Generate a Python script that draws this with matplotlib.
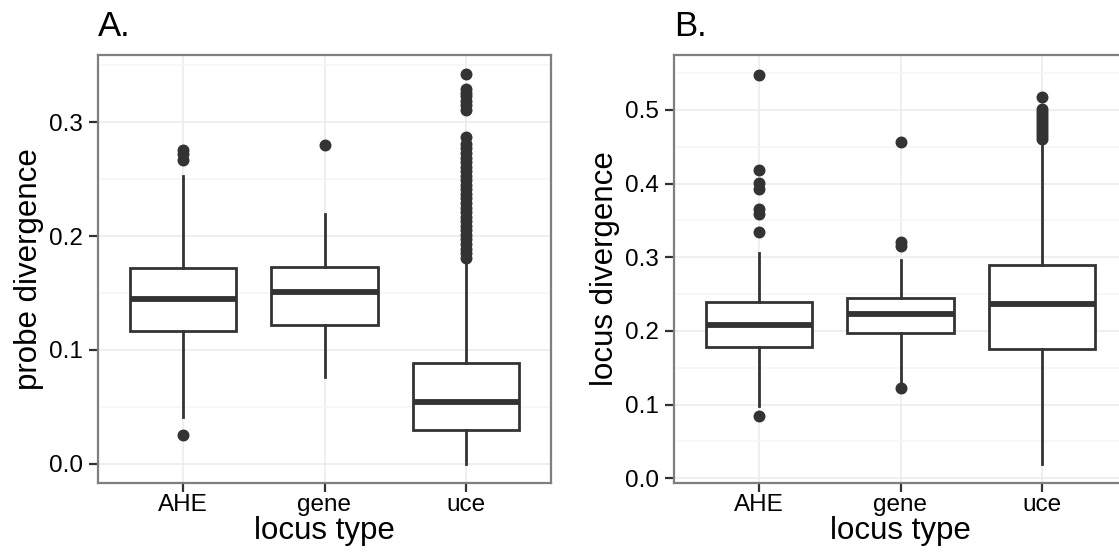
import matplotlib.pyplot as plt
from matplotlib.ticker import MultipleLocator

# locus types (x categories)
types = ["AHE", "gene", "uce"]

# panel A: probe divergence box stats (q1, median, q3, whisker low, whisker high)
probe_q1 = [0.1165, 0.1215, 0.0293]
probe_med = [0.1442, 0.1511, 0.0538]
probe_q3 = [0.1719, 0.1725, 0.0884]
probe_lo = [0.0412, 0.0765, 0.0]
probe_hi = [0.2528, 0.2197, 0.178]
probe_out_ahe = [0.0252, 0.267, 0.272, 0.276]
probe_out_gene = [0.2801]
probe_out_uce = [0.181, 0.185, 0.189, 0.193, 0.197, 0.201, 0.205, 0.209, 0.213,
                 0.217, 0.221, 0.225, 0.229, 0.233, 0.237, 0.241, 0.245, 0.249,
                 0.253, 0.257, 0.261, 0.265, 0.269, 0.273, 0.277, 0.281, 0.287,
                 0.311, 0.315, 0.319, 0.323, 0.326, 0.329, 0.342]

# panel B: locus divergence box stats
locus_q1 = [0.178, 0.1965, 0.1759]
locus_med = [0.208, 0.2225, 0.2359]
locus_q3 = [0.2388, 0.2445, 0.289]
locus_lo = [0.0987, 0.129, 0.0195]
locus_hi = [0.3062, 0.296, 0.458]
locus_out_ahe = [0.084, 0.334, 0.358, 0.366, 0.392, 0.401, 0.418, 0.547]
locus_out_gene = [0.122, 0.315, 0.320, 0.457]
locus_out_uce = [0.461, 0.465, 0.469, 0.473, 0.477, 0.481, 0.485, 0.489,
                 0.493, 0.497, 0.501, 0.518]

dark = "#333333"
plt.rcParams["font.family"] = ["Liberation Sans", "DejaVu Sans"]


def make_stats(q1, med, q3, lo, hi, outs):
    stats = []
    for i in range(len(types)):
        stats.append(dict(q1=q1[i], med=med[i], q3=q3[i], whislo=lo[i],
                          whishi=hi[i], fliers=outs[i], label=types[i]))
    return stats


def draw_panel(ax, stats, ylabel, title, ylim, major):
    ax.bxp(stats, positions=[1, 2, 3], widths=0.75, showcaps=False,
           patch_artist=True,
           boxprops=dict(facecolor="white", edgecolor=dark, linewidth=2.0),
           medianprops=dict(color=dark, linewidth=4.2, solid_capstyle="butt"),
           whiskerprops=dict(color=dark, linewidth=2.0),
           flierprops=dict(marker="o", markersize=7.6, markerfacecolor=dark,
                           markeredgecolor=dark, linestyle="none"),
           zorder=3)
    ax.set_xlim(0.4, 3.6)
    ax.set_ylim(*ylim)
    ax.yaxis.set_major_locator(MultipleLocator(major))
    ax.yaxis.set_minor_locator(MultipleLocator(major / 2))
    ax.set_xticks([1, 2, 3])
    ax.set_xticklabels(types)
    ax.grid(which="major", color="#ebebeb", linewidth=1.1, zorder=0)
    ax.grid(which="minor", axis="y", color="#f5f5f5", linewidth=1.1, zorder=0)
    ax.set_axisbelow(True)
    for s in ax.spines.values():
        s.set_color("#7f7f7f")
        s.set_linewidth(1.6)
    ax.tick_params(which="major", length=6.2, width=1.6, color=dark,
                   labelsize=17.5, labelcolor="black")
    ax.tick_params(axis="y", pad=4.5)
    ax.tick_params(axis="x", pad=1.5)
    ax.tick_params(which="minor", length=0)
    ax.set_xlabel("locus type", fontsize=22.5, labelpad=0)
    ax.set_ylabel(ylabel, fontsize=22.5, labelpad=4)
    ax.text(0, 1.044, title, transform=ax.transAxes, fontsize=25,
            ha="left", va="baseline")


fig = plt.figure(figsize=(11.19, 5.54), dpi=100)
axA = fig.add_axes([98 / 1119, 71 / 554, 453 / 1119, 428 / 554])
axB = fig.add_axes([674 / 1119, 71 / 554, 453 / 1119, 428 / 554])

draw_panel(axA, make_stats(probe_q1, probe_med, probe_q3, probe_lo, probe_hi,
                           [probe_out_ahe, probe_out_gene, probe_out_uce]),
           "probe divergence", "A.", (-0.0171, 0.3591), 0.1)
draw_panel(axB, make_stats(locus_q1, locus_med, locus_q3, locus_lo, locus_hi,
                           [locus_out_ahe, locus_out_gene, locus_out_uce]),
           "locus divergence", "B.", (-0.0064, 0.5744), 0.1)

plt.savefig("out.png", dpi=100)
